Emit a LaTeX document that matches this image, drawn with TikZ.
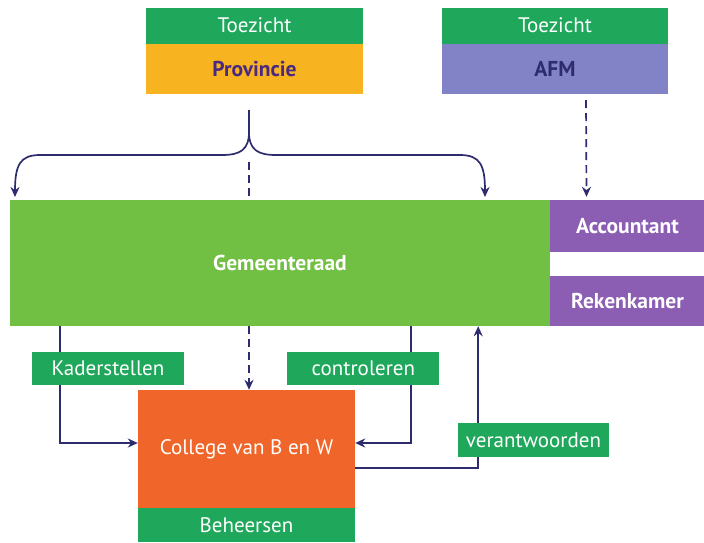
\documentclass[tikz,border=0pt]{standalone}
\usepackage{fontspec}
\setmainfont{PT Sans}
\usepackage{tikz}
\usetikzlibrary{arrows.meta,positioning}

\definecolor{labelgreen}{HTML}{1FA85B}
\definecolor{raadgreen}{HTML}{72C043}
\definecolor{provorange}{HTML}{F7B420}
\definecolor{afmblue}{HTML}{8283C6}
\definecolor{accpurple}{HTML}{8B5DB3}
\definecolor{collorange}{HTML}{F0662A}
\definecolor{arrownavy}{HTML}{2D2C6E}
\definecolor{provtext}{HTML}{4A2A80}

\begin{document}
\begin{tikzpicture}[x=1pt,y=-1pt]
      \tikzstyle{box}=[rectangle,inner sep=0pt,font=\fontsize{21}{23}\selectfont]
      \tikzstyle{tag}=[box,fill=labelgreen,text=white,minimum height=33pt]
      \tikzstyle{bold}=[font=\fontsize{21.5}{23}\selectfont\bfseries]
      \tikzstyle{conn}=[draw=arrownavy,line width=1.7pt,-{Stealth[length=10pt,width=9pt]}]
      \tikzstyle{longdash}=[dash pattern=on 8pt off 5pt]

      \useasboundingbox (0,0) rectangle (704,542);

      % toezicht boxes
      \node[tag,minimum width=217pt,minimum height=36pt](tzP) at (254.5,25.5){Toezicht};
      \node[box,bold,fill=provorange,text=provtext,minimum width=217pt,minimum height=50pt]
            (prov)[below=0pt of tzP]{Provincie};

      \node[tag,minimum width=226pt,minimum height=36pt](tzA) at (555,25.5){Toezicht};
      \node[box,bold,fill=afmblue,text=arrownavy,minimum width=226pt,minimum height=50pt]
            (afm)[below=0pt of tzA]{AFM};

      % raad and its helpers
      \node[box,bold,fill=raadgreen,text=white,minimum width=540pt,minimum height=126pt]
            (raad) at (280,263){Gemeenteraad};
      \node[box,bold,fill=accpurple,text=white,minimum width=155pt,minimum height=52pt]
            (acc) at (627.5,226){Accountant};
      \node[box,bold,fill=accpurple,text=white,minimum width=155pt,minimum height=50pt]
            (rek) at (627.5,301){Rekenkamer};

      % college
      \node[box,fill=collorange,text=white,minimum width=217pt,minimum height=118pt](coll)
            at (246.5,449){College van B en W};
      \node[tag,minimum width=217pt,minimum height=34pt](beh)[below=0pt of coll]{Beheersen};

      % brace from provincie
      \coordinate(br) at (249,110);
      \coordinate(brL) at (15,197);
      \coordinate(brR) at (485,197);
      \draw[conn] (br) -- (249,132) .. controls (249,150) and (240,155) .. (222,155)
            -- (40,155) .. controls (20,155) and (15,165) .. (brL);
      \draw[conn] (br) -- (249,132) .. controls (249,150) and (258,155) .. (276,155)
            -- (460,155) .. controls (480,155) and (485,165) .. (brR);
      \draw[arrownavy,line width=1.7pt,longdash] (249,162) -- (br |- raad.north);
      \draw[conn,longdash] (br |- raad.south) -- (br |- coll.north);

      % afm to accountant
      \draw[conn,longdash] ([shift={(31,6)}]afm.south) -- ([shift={(-41,-3)}]acc.north);

      % kaders, controle, verantwoording
      \draw[conn] ([xshift=50pt]raad.south west) |- ([yshift=6pt]coll.west);
      \draw[conn] ([xshift=-139pt]raad.south east) |- ([yshift=6pt]coll.east);
      \draw[conn] ([yshift=-19pt]coll.east) -| ([xshift=-72pt]raad.south east);

      % labels on the lines
      \node[tag,minimum width=152pt](kader) at (108,368.5){Kaderstellen};
      \node[tag,minimum width=152pt](contr)[right=103pt of kader]{controleren};
      \node[tag,minimum width=151pt,minimum height=34pt](verant) at (533.5,440){verantwoorden};
\end{tikzpicture}
\end{document}
